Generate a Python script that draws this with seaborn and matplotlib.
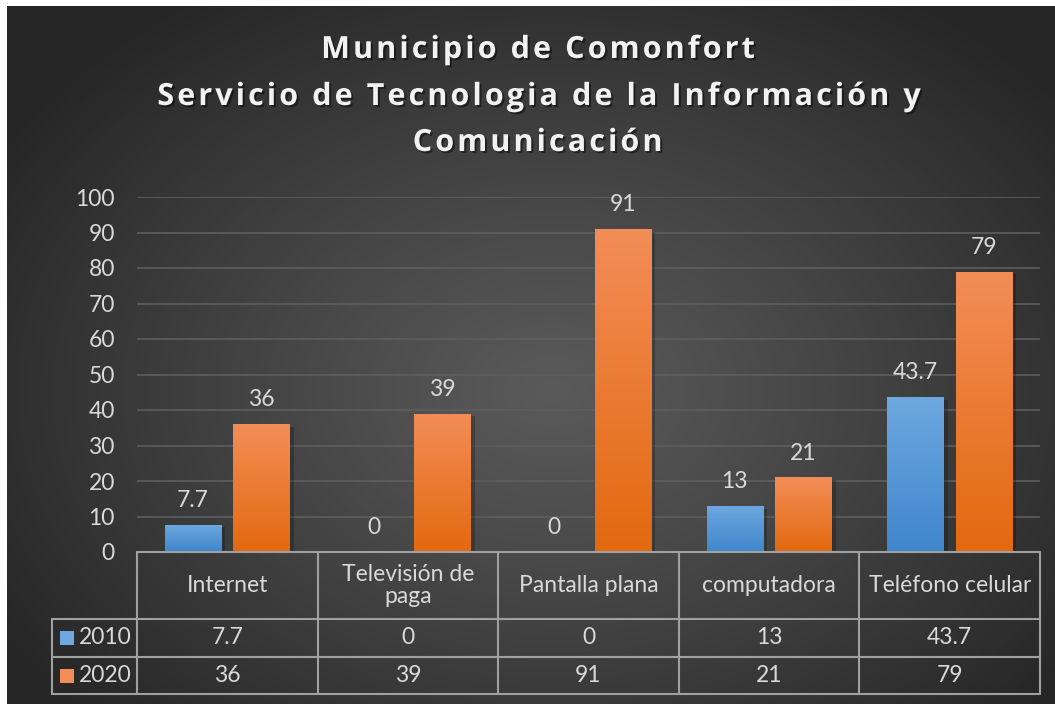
import textwrap
import numpy as np
import pandas as pd
import matplotlib
matplotlib.use("Agg")
import matplotlib.pyplot as plt
import matplotlib.patheffects as pe
from matplotlib.lines import Line2D
from matplotlib.patches import Rectangle
from matplotlib.transforms import blended_transform_factory
import seaborn as sns

# datos
categorias = ["Internet", "Televisión de paga", "Pantalla plana", "computadora", "Teléfono celular"]
anios = ["2010", "2020"]
valores_2010 = [7.7, 0, 0, 13, 43.7]
valores_2020 = [36, 39, 91, 21, 79]
titulo = ["Municipio de Comonfort", "Servicio de Tecnologia de la Información y", "Comunicación"]

colores = {"2010": ("#6ea8e0", "#3f86cc"), "2020": ("#f38d57", "#e3690f")}
texto_col = "#d9d9d9"
linea_tabla = "#a0a0a0"
fs = 16.5

df = pd.DataFrame({
    "categoria": categorias * 2,
    "anio": [anios[0]] * 5 + [anios[1]] * 5,
    "valor": valores_2010 + valores_2020,
})

sns.set_theme(style="white")
plt.rcParams["font.family"] = ["Lato", "DejaVu Sans"]

W, H = 1055, 704
fig = plt.figure(figsize=(W / 100, H / 100), dpi=100, facecolor="white")

def fx(x):
    return x / W

def fy(y):
    return 1 - y / H

# fondo con degradado radial
bg = fig.add_axes([fx(7), 0, 1 - fx(7), fy(6)], zorder=-10)
ny, nx = 400, 600
yy, xx = np.mgrid[0:ny, 0:nx]
d = np.sqrt(((xx / nx - 0.52) / 0.62) ** 2 + ((yy / ny - 0.55) / 0.68) ** 2)
d = np.clip(d, 0, 1) ** 1.1
c_centro, c_borde = 0x5a / 255, 0x26 / 255
img = c_centro + (c_borde - c_centro) * d
bg.imshow(np.dstack([img, img, img]), aspect="auto", extent=[0, 1, 0, 1])
bg.axis("off")

# area del grafico
ax = fig.add_axes([fx(137), fy(552), fx(1040) - fx(137), fy(197) - fy(552)])
ax.set_facecolor("none")

sns.barplot(data=df, x="categoria", y="valor", hue="anio", order=categorias,
            hue_order=anios, palette=[colores[a][0] for a in anios],
            width=0.76, gap=0.18, legend=False, ax=ax, zorder=3)

ax.set_ylim(0, 100)
ax.set_xlim(-0.5, len(categorias) - 0.5)
ax.set_yticks(range(0, 101, 10))
ax.tick_params(axis="y", labelsize=fs, labelcolor=texto_col, pad=16, length=0)
ax.set_xticks([])
ax.set_xlabel("")
ax.set_ylabel("")
for s in ax.spines.values():
    s.set_visible(False)
ax.yaxis.grid(True, color="#5e5e5e", lw=1.2, zorder=0)
ax.set_axisbelow(True)

# degradado de las barras
for i, cont in enumerate(ax.containers):
    arriba, abajo = colores[anios[i]]
    grad = np.linspace(0, 1, 100).reshape(-1, 1)
    c1 = np.array(matplotlib.colors.to_rgb(arriba))
    c2 = np.array(matplotlib.colors.to_rgb(abajo))
    rgb = c1 + (c2 - c1) * grad[..., None]
    for p in cont.patches:
        x0, y0 = p.get_x(), p.get_y()
        w, h = p.get_width(), p.get_height()
        p.set_edgecolor("none")
        p.set_path_effects([pe.SimplePatchShadow(offset=(3, -2), shadow_rgbFace="black", alpha=0.22), pe.Normal()])
        if h > 0:
            im = ax.imshow(rgb, extent=[x0, x0 + w, y0, y0 + h], aspect="auto", zorder=4)
            im.set_clip_path(p)
    ax.bar_label(cont, fmt="%g", padding=10, color=texto_col, fontsize=fs)

ax.set_xlim(-0.5, len(categorias) - 0.5)
ax.set_ylim(0, 100)

# titulo (con espaciado entre letras)
espacio = "\u200a"
for j, (linea_t, yc) in enumerate(zip(titulo, [50, 97, 143])):
    fig.text(fx(537), fy(yc), espacio.join(linea_t), ha="center", va="center", fontsize=22,
             fontweight="bold", color="#f2f2f2", family=["Open Sans", "DejaVu Sans"],
             path_effects=[pe.withSimplePatchShadow(offset=(1.5, -1.5), shadow_rgbFace="black", alpha=0.45)])

# tabla de datos
tr = blended_transform_factory(ax.transData, fig.transFigure)
filas_y = [552, 619, 657, 694]
n = len(categorias)
x_izq_leyenda = -0.5 - (137 - 52) / 180.6

def linea(x0, x1, y0, y1):
    fig.add_artist(Line2D([x0, x1], [y0, y1], transform=tr, color=linea_tabla, lw=1.5, zorder=5))

# horizontales
linea(-0.5, n - 0.5, fy(filas_y[0]), fy(filas_y[0]))
for y in filas_y[1:]:
    linea(x_izq_leyenda, n - 0.5, fy(y), fy(y))
# verticales
for k in range(n + 1):
    linea(k - 0.5, k - 0.5, fy(filas_y[0]), fy(filas_y[-1]))
linea(x_izq_leyenda, x_izq_leyenda, fy(filas_y[1]), fy(filas_y[-1]))

for k, cat in enumerate(categorias):
    fig.text(k, fy((filas_y[0] + filas_y[1]) / 2), textwrap.fill(cat, 16), transform=tr,
             ha="center", va="center", fontsize=fs, color=texto_col, linespacing=1.1)

for r, (anio, vals) in enumerate(zip(anios, [valores_2010, valores_2020])):
    yc = fy((filas_y[r + 1] + filas_y[r + 2]) / 2)
    for k, v in enumerate(vals):
        fig.text(k, yc, "%g" % v, transform=tr, ha="center", va="center",
                 fontsize=fs, color=texto_col)
    sq = 14 / 180.6
    fig.add_artist(Rectangle((x_izq_leyenda + 8 / 180.6, yc - 7 / H), sq, 14 / H,
                             transform=tr, facecolor=colores[anio][0], edgecolor="none"))
    fig.text(x_izq_leyenda + 27 / 180.6, yc, anio, transform=tr, ha="left", va="center",
             fontsize=fs, color=texto_col)

fig.savefig("out.png", dpi=100, facecolor="white")
